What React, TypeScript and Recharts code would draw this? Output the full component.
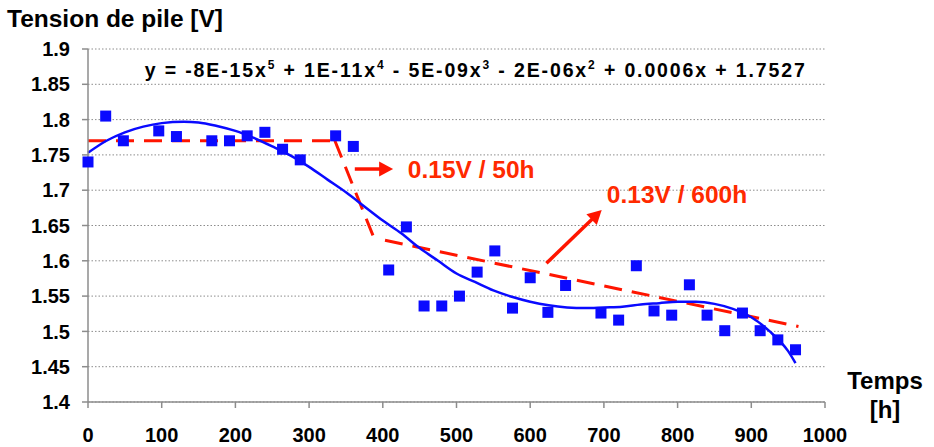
import {
  ComposedChart,
  XAxis,
  YAxis,
  CartesianGrid,
  Scatter,
  Line,
  ReferenceLine,
  ReferenceDot,
} from "recharts";

// mesures : temps [h] et tension de pile [V]
const hours = [
  0, 24, 48, 96, 120, 168, 192, 216, 240, 264, 288, 336, 360, 408, 432, 456,
  480, 504, 528, 552, 576, 600, 624, 648, 696, 720, 744, 768, 792, 816, 840,
  864, 888, 912, 936, 960,
];
const volts = [
  1.74, 1.805, 1.77, 1.784, 1.776, 1.77, 1.77, 1.777, 1.782, 1.758, 1.743,
  1.777, 1.762, 1.587, 1.648, 1.536, 1.536, 1.55, 1.584, 1.614, 1.533, 1.576,
  1.527, 1.565, 1.526, 1.516, 1.593, 1.529, 1.523, 1.566, 1.523, 1.501, 1.526,
  1.501, 1.488, 1.474,
];

// courbe de tendance polynomiale
const trendHours = [
  0, 25, 50, 75, 100, 130, 150, 175, 200, 225, 250, 275, 300, 325, 350, 375,
  400, 425, 450, 475, 500, 525, 550, 575, 600, 625, 650, 675, 700, 725, 750,
  775, 800, 825, 850, 875, 900, 925, 950, 960,
];
const trendVolts = [
  1.753, 1.77, 1.782, 1.79, 1.795, 1.797, 1.796, 1.791, 1.784, 1.774, 1.762,
  1.749, 1.733, 1.715, 1.697, 1.677, 1.657, 1.639, 1.618, 1.6, 1.582, 1.57,
  1.558, 1.549, 1.542, 1.537, 1.534, 1.533, 1.534, 1.535, 1.538, 1.54, 1.542,
  1.542, 1.539, 1.532, 1.52, 1.5, 1.472, 1.455,
];

// segments rouges en pointillés : [t1, v1, t2, v2]
const plateau = [0, 1.77, 335, 1.77];
const drop = [335, 1.77, 387, 1.635];
const slowDecline = [403, 1.629, 964, 1.507];

// flèches
const arrowFast = [362, 1.73, 414, 1.73];
const arrowSlow = [622, 1.5965, 697, 1.672];

const xTicks = [0, 100, 200, 300, 400, 500, 600, 700, 800, 900, 1000];
const yTicks = [1.4, 1.45, 1.5, 1.55, 1.6, 1.65, 1.7, 1.75, 1.8, 1.85, 1.9];

const labelFast = { t: 434, v: 1.717, text: "0.15V / 50h" };
const labelSlow = { t: 704, v: 1.682, text: "0.13V / 600h" };
const equationPos = { t: 77, v: 1.86 };
const equationParts: [string, string][] = [
  ["y = -8E-15x", "5"],
  [" + 1E-11x", "4"],
  [" - 5E-09x", "3"],
  [" - 2E-06x", "2"],
  [" + 0.0006x + 1.7527", ""],
];

const FONT = "'Liberation Sans', Arial, sans-serif";
const RED = "#ff1500";
const TEXT_RED = "#ff2a00";
const BLUE = "#0a0aff";
const GREY = "#8c8c8c";

const points = hours.map((t, i) => ({ t, v: volts[i] }));
const trend = trendHours.map((t, i) => ({ t, v: trendVolts[i] }));

function seg(s: number[]) {
  return [
    { x: s[0], y: s[1] },
    { x: s[2], y: s[3] },
  ];
}

function Arrow(p: any) {
  const { x1, y1, x2, y2 } = p;
  const dx = x2 - x1;
  const dy = y2 - y1;
  const len = Math.sqrt(dx * dx + dy * dy) || 1;
  const ux = dx / len;
  const uy = dy / len;
  const head = 14;
  const half = 7.5;
  const bx = x2 - ux * head;
  const by = y2 - uy * head;
  return (
    <g>
      <line x1={x1} y1={y1} x2={bx + ux} y2={by + uy} stroke={RED} strokeWidth={3.5} />
      <polygon
        points={`${x2},${y2} ${bx - uy * half},${by + ux * half} ${bx + uy * half},${by - ux * half}`}
        fill={RED}
      />
    </g>
  );
}

function Square(p: any) {
  return <rect x={p.cx - 5.5} y={p.cy - 5.5} width={11} height={11} fill={BLUE} />;
}

function redLabel(text: string) {
  return (p: any) => (
    <text
      x={p.cx}
      y={p.cy}
      fill={TEXT_RED}
      fontFamily={FONT}
      fontWeight="bold"
      fontSize={24.5}
    >
      {text}
    </text>
  );
}

function Equation(p: any) {
  return (
    <text
      x={p.cx}
      y={p.cy}
      fill="#000"
      fontFamily={FONT}
      fontWeight="bold"
      fontSize={19.5}
      textLength={660}
      lengthAdjust="spacing"
    >
      {equationParts.map(([main, sup], i) => (
        <tspan key={i}>
          <tspan dy={i === 0 ? 0 : 8}>{main}</tspan>
          {sup && (
            <tspan dy={-8} fontSize={12}>
              {sup}
            </tspan>
          )}
        </tspan>
      ))}
    </text>
  );
}

export default function App() {
  return (
    <div
      style={{
        position: "absolute",
        left: 0,
        top: 0,
        width: 934,
        height: 447,
        background: "#fff",
        fontFamily: FONT,
      }}
    >
      <div
        style={{
          position: "absolute",
          left: 7,
          top: 7,
          fontSize: 24.5,
          lineHeight: "24px",
          fontWeight: "bold",
          whiteSpace: "nowrap",
        }}
      >
        Tension de pile [V]
      </div>
      <div
        style={{
          position: "absolute",
          left: 835,
          top: 366,
          width: 100,
          textAlign: "center",
          fontSize: 24,
          lineHeight: "29px",
          fontWeight: "bold",
        }}
      >
        Temps
        <br />
        [h]
      </div>
      <ComposedChart
        width={934}
        height={447}
        margin={{ top: 49, right: 109, bottom: 0, left: 0 }}
      >
        <CartesianGrid
          horizontal
          vertical={false}
          stroke={GREY}
          strokeDasharray="1.5 2"
        />
        <XAxis
          type="number"
          dataKey="t"
          domain={[0, 1000]}
          ticks={xTicks}
          interval={0}
          height={45}
          stroke={GREY}
          strokeWidth={1.5}
          tickSize={6}
          tickMargin={20}
          tick={{ fill: "#000", fontSize: 20, fontWeight: "bold", fontFamily: FONT }}
        />
        <YAxis
          type="number"
          dataKey="v"
          domain={[1.4, 1.9]}
          ticks={yTicks}
          interval={0}
          width={88}
          stroke={GREY}
          strokeWidth={1.5}
          tickSize={6}
          tickMargin={12}
          tickFormatter={(v: number) => String(parseFloat(v.toFixed(2)))}
          tick={{ fill: "#000", fontSize: 20, fontWeight: "bold", fontFamily: FONT }}
        />
        <ReferenceLine
          segment={seg(plateau)}
          stroke={RED}
          strokeWidth={3}
          strokeDasharray="18 10"
          ifOverflow="visible"
        />
        <ReferenceLine
          segment={seg(drop)}
          stroke={RED}
          strokeWidth={3}
          strokeDasharray="18 10"
          ifOverflow="visible"
        />
        <ReferenceLine
          segment={seg(slowDecline)}
          stroke={RED}
          strokeWidth={3}
          strokeDasharray="18 10"
          ifOverflow="visible"
        />
        <Line
          data={trend}
          dataKey="v"
          type="monotone"
          stroke={BLUE}
          strokeWidth={2.5}
          dot={false}
          activeDot={false}
          isAnimationActive={false}
        />
        <Scatter
          data={points}
          dataKey="v"
          shape={Square}
          isAnimationActive={false}
        />
        <ReferenceLine segment={seg(arrowFast)} shape={Arrow} ifOverflow="visible" />
        <ReferenceLine segment={seg(arrowSlow)} shape={Arrow} ifOverflow="visible" />
        <ReferenceDot
          x={labelFast.t}
          y={labelFast.v}
          r={0}
          shape={redLabel(labelFast.text)}
          ifOverflow="visible"
        />
        <ReferenceDot
          x={labelSlow.t}
          y={labelSlow.v}
          r={0}
          shape={redLabel(labelSlow.text)}
          ifOverflow="visible"
        />
        <ReferenceDot
          x={equationPos.t}
          y={equationPos.v}
          r={0}
          shape={Equation}
          ifOverflow="visible"
        />
      </ComposedChart>
    </div>
  );
}
